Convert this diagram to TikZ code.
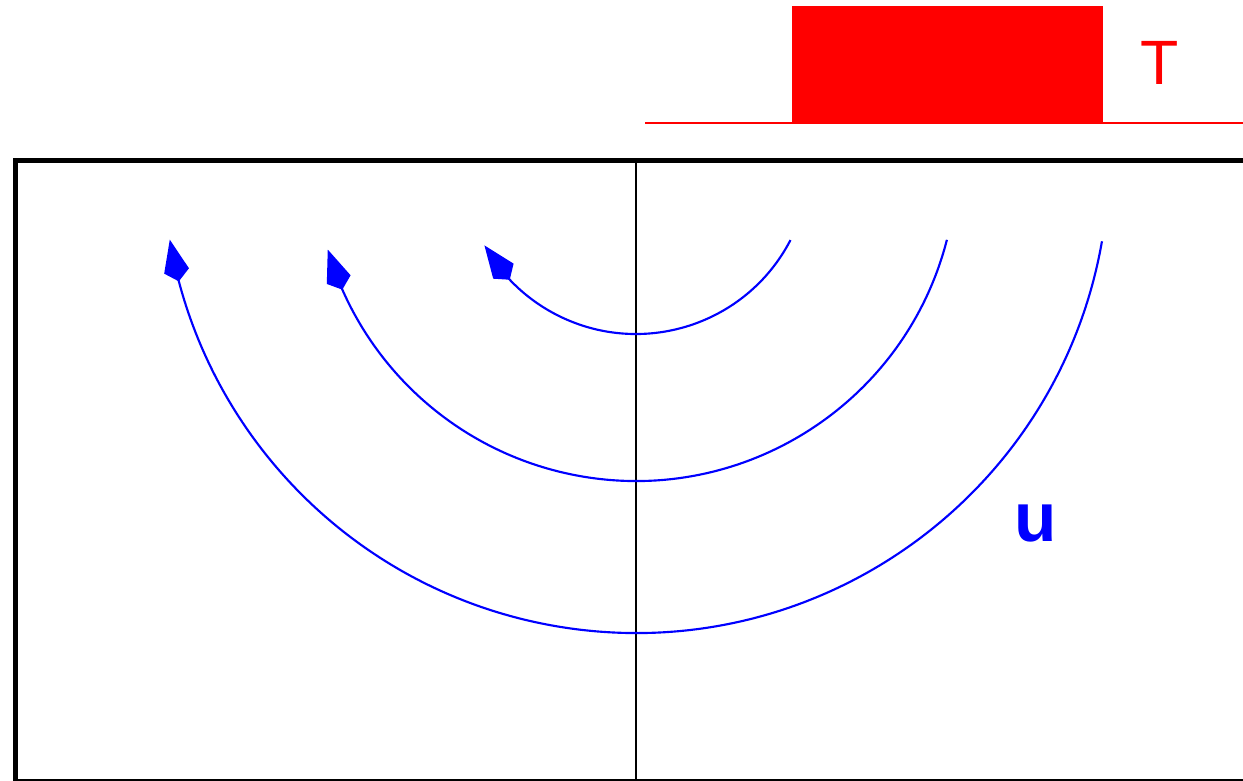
\documentclass[tikz,border=0pt]{standalone}
\usepackage{fontspec}
\setmainfont{Liberation Sans}
\usetikzlibrary{arrows.meta,bending}
\definecolor{pureblue}{RGB}{0,0,255}
\definecolor{purered}{RGB}{255,0,0}
\tikzset{
  frame/.style={line width=3.75pt, line cap=rect},
  thinline/.style={line width=1pt},
  wave/.style={pureblue, line width=1.6pt, -{Kite[length=32pt,width=19pt,inset=8pt,flex]}},
  pulse/.style={purered, fill=purered, draw=none},
}
\begin{document}
\begin{tikzpicture}[x=0.75pt,y=-0.75pt]
\useasboundingbox (0,0) rectangle (1243,781);
% red load
\fill[pulse] (792,6) rectangle (1103,123);
\draw[purered, line width=1.5pt] (645,123) -- (1243,123);
\node[purered, font=\fontsize{47pt}{50pt}\selectfont, anchor=center] (T) at (1160,63) {T};
% frame
\draw[frame] (15.5,781) -- (15.5,160.5) -- (1243,160.5);
\draw[thinline] (15.5,780) -- (1243,780);
\draw[thinline] (636,160.5) -- (636,781);
% arcs
\coordinate (c) at (636,160);
\draw[wave] (c) ++(27.4:174) arc[start angle=27.4, end angle=150.6, radius=174];
\draw[wave] (c) ++(14.4:321) arc[start angle=14.4, end angle=163.8, radius=321];
\draw[wave] (c) ++(9.9:473) arc[start angle=9.9, end angle=170.3, radius=473];
\node[pureblue, font=\bfseries\fontsize{52pt}{56pt}\selectfont, anchor=center] (u) at (1036,524) {u};
\end{tikzpicture}
\end{document}
